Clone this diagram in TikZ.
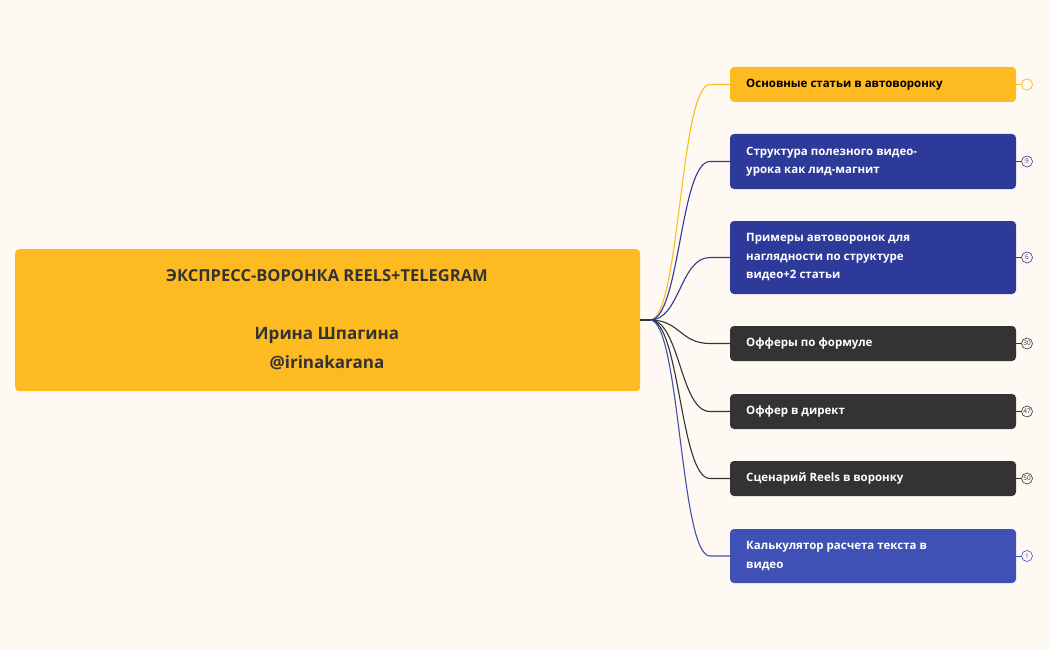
\documentclass[tikz,border=0pt]{standalone}
\usepackage{fontspec}
\setmainfont{Open Sans}
\begin{document}
\begin{tikzpicture}[x=1pt,y=-1pt,
 child/.style={rounded corners=4pt,minimum width=286pt,text width=260pt,align=left,font=\bfseries\fontsize{11.5}{14.5}\selectfont,inner sep=0pt,anchor=north west},
 badge/.style={circle,draw,line width=0.6pt,minimum size=11pt,inner sep=0pt,font=\fontsize{6.5}{7}\selectfont,fill=bg},
 con/.style={line width=1.1pt}]
\definecolor{bg}{HTML}{FFF9F3}
\definecolor{yel}{HTML}{FDBA21}
\definecolor{dblue}{HTML}{2E3A9A}
\definecolor{lblue}{HTML}{3F51B5}
\definecolor{dark}{HTML}{333333}
\fill[bg] (0,0) rectangle (1049,650);
\useasboundingbox (0,0) rectangle (1049,650);
\node[fill=yel,rounded corners=4pt,minimum width=625pt,minimum height=142pt,anchor=north west,inner sep=0pt] (root) at (15,249) {};
\node[text=dark,font=\fontsize{16.5}{20}\selectfont\bfseries] (t1) at (327,276) {ЭКСПРЕСС-ВОРОНКА REELS+TELEGRAM};
\node[text=dark,font=\fontsize{17}{29}\selectfont\bfseries,align=center] (t2) at (327,349) {Ирина Шпагина\\@irinakarana};
\coordinate (hub) at (650,320);
\draw[con,dark] (640,320) -- (hub);
\foreach \n/\y/\h/\c/\tc/\b/\txt in {
 a/67/35/yel/black/{\tiny$\cdots$}/{Основные статьи в автоворонку},
 b/134/55/dblue/white/9/{Структура полезного видео-\\урока как лид-магнит},
 c/221/73/dblue/white/6/{Примеры автоворонок для\\наглядности по структуре\\видео+2 статьи},
 d/326/35/dark/white/30/{Офферы по формуле},
 e/394/35/dark/white/47/{Оффер в директ},
 f/461/35/dark/white/50/{Сценарий Reels в воронку},
 g/529/54/lblue/white/1/{Калькулятор расчета текста в\\видео}}{
 \fill[\c,rounded corners=4pt] (730,\y) rectangle (1016,\y+\h);
 \node[anchor=west,text=\tc,font=\bfseries\fontsize{11.5}{18.5}\selectfont,align=left,inner sep=0pt] (\n) at (746,\y+\h/2) {\txt};
 \coordinate (\n L) at (730,\y+\h/2);
 \coordinate (\n R) at (1016,\y+\h/2);
 \node[badge,draw=\c,text=\c] (\n B) at (1027,\y+\h/2) {\b};
 \draw[\c,line width=0.8pt] (\n R) -- (\n B);
 \draw[con,\c] (hub) .. controls (680,320) and (680,\y+\h/2) .. (710,\y+\h/2) -- (\n L);
}
\node[badge,draw=yel,text=yel] at (1027,84.5) {\tiny$\cdots$};
\end{tikzpicture}
\end{document}
